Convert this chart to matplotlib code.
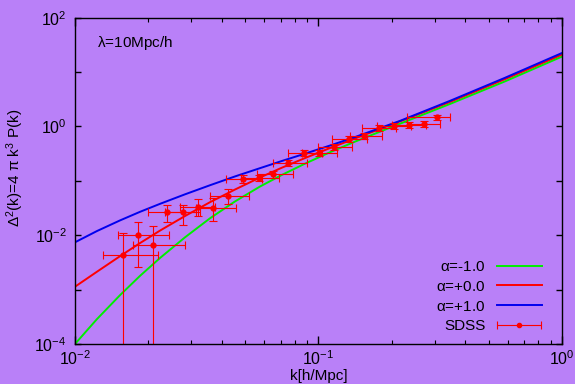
import numpy as np
import matplotlib
matplotlib.use("Agg")
import matplotlib.pyplot as plt
from matplotlib.ticker import FixedLocator, FuncFormatter, LogLocator, NullFormatter
from matplotlib.legend_handler import HandlerErrorbar

plt.rcParams['font.family'] = ['Liberation Sans', 'DejaVu Sans']
plt.rcParams['mathtext.default'] = 'regular'

bg = '#b980f8'

# model curves: k [h/Mpc] and log10 of Delta^2(k)
k_curve = [0.01, 0.012312, 0.015302, 0.018487, 0.02234, 0.028295, 0.035838, 0.04539, 0.057495,
           0.070812, 0.088032, 0.11149, 0.14122, 0.21621, 0.34677, 0.58327, 1.0]
logd_am1 = [-4.0, -3.542, -3.103, -2.748, -2.419, -2.039, -1.689, -1.379, -1.105,
            -0.890, -0.684, -0.474, -0.279, 0.051, 0.414, 0.829, 1.285]
logd_a0 = [-2.947, -2.671, -2.386, -2.145, -1.915, -1.647, -1.393, -1.160, -0.939,
           -0.757, -0.581, -0.397, -0.221, 0.094, 0.452, 0.871, 1.322]
logd_ap1 = [-2.130, -1.923, -1.728, -1.570, -1.423, -1.248, -1.081, -0.919, -0.767,
            -0.634, -0.500, -0.351, -0.195, 0.103, 0.471, 0.895, 1.351]

# SDSS band powers
sdss_k = [0.0158, 0.0182, 0.0210, 0.0239, 0.0279, 0.0319, 0.0370, 0.0427, 0.0491, 0.0568, 0.0653,
          0.0753, 0.0871, 0.1007, 0.116, 0.134, 0.154, 0.178, 0.204, 0.236, 0.271, 0.308]
sdss_d = [0.00432, 0.0101, 0.00652, 0.0270, 0.0264, 0.0326, 0.0321, 0.0532, 0.109, 0.112, 0.131,
          0.212, 0.321, 0.329, 0.413, 0.579, 0.667, 0.955, 1.02, 1.06, 1.12, 1.47]
sdss_k_lo = [0.0130, 0.01506, 0.01726, 0.0199, 0.02343, 0.0270, 0.0314, 0.0358, 0.0417, 0.0481, 0.0557,
             0.0649, 0.0749, 0.0855, 0.0998, 0.1136, 0.1347, 0.1513, 0.1738, 0.2003, 0.2302, 0.2316]
sdss_k_hi = [0.02198, 0.02439, 0.0283, 0.03131, 0.0326, 0.0376, 0.0458, 0.0520, 0.0586, 0.0688, 0.0788,
             0.0900, 0.1034, 0.1194, 0.1369, 0.1582, 0.1817, 0.2081, 0.2398, 0.2764, 0.3155, 0.3467]
sdss_d_lo = [1e-6, 0.00264, 1e-6, 0.0177, 0.0154, 0.0225, 0.0185, 0.0374, 0.092, 0.0985, 0.115,
             0.187, 0.283, 0.290, 0.364, 0.510, 0.587, 0.841, 0.90, 0.935, 0.99, 1.33]
sdss_d_hi = [0.0108, 0.0173, 0.01476, 0.0359, 0.0359, 0.0457, 0.0478, 0.0698, 0.130, 0.127, 0.149,
             0.241, 0.365, 0.374, 0.469, 0.658, 0.757, 1.085, 1.16, 1.20, 1.27, 1.62]

k = np.array(sdss_k)
d = np.array(sdss_d)
xerr = [k - np.array(sdss_k_lo), np.array(sdss_k_hi) - k]
yerr = [d - np.array(sdss_d_lo), np.array(sdss_d_hi) - d]

fig = plt.figure(figsize=(5.75, 3.84), dpi=100, facecolor=bg)
ax = fig.add_axes([0.1304, 0.1042, 0.8470, 0.8497], facecolor=bg)

ax.plot(k_curve, 10.0 ** np.array(logd_am1), color='#00ee00', lw=1.4, label=r'$\alpha$=-1.0')
ax.plot(k_curve, 10.0 ** np.array(logd_a0), color='#ff0000', lw=1.4, label=r'$\alpha$=+0.0')
ax.plot(k_curve, 10.0 ** np.array(logd_ap1), color='#0000ee', lw=1.4, label=r'$\alpha$=+1.0')
ax.errorbar(k, d, xerr=xerr, yerr=yerr, fmt='o', color='#ff0000', ms=3.5,
            elinewidth=0.8, capsize=2.6, capthick=0.8)
proxy = ax.errorbar([np.nan], [np.nan], xerr=[[0.0], [0.0]], fmt='o', color='#ff0000', ms=3.0,
                    elinewidth=0.8, capsize=2.6, capthick=0.8, label='SDSS')

ax.set_xscale('log')
ax.set_yscale('log')
ax.set_xlim(0.01, 1.0)
ax.set_ylim(1e-4, 1e2)

ax.yaxis.set_major_locator(FixedLocator([1e-4, 1e-3, 1e-2, 1e-1, 1e0, 1e1, 1e2]))
ax.yaxis.set_minor_locator(FixedLocator([]))
ax.yaxis.set_major_formatter(FuncFormatter(
    lambda v, p: '$10^{%d}$' % round(np.log10(v)) if round(np.log10(v)) % 2 == 0 else ''))
ax.xaxis.set_major_locator(FixedLocator([1e-2, 1e-1, 1e0]))
ax.xaxis.set_minor_locator(LogLocator(base=10, subs=np.arange(2, 10)))
ax.xaxis.set_minor_formatter(NullFormatter())
ax.xaxis.set_major_formatter(FuncFormatter(lambda v, p: '$10^{%d}$' % round(np.log10(v))))

ax.tick_params(which='both', direction='in', top=True, right=True, labelsize=11.5, colors='black')
ax.tick_params(axis='x', which='major', length=6, width=1, pad=4)
ax.tick_params(axis='x', which='minor', length=3, width=0.8)
ax.tick_params(axis='y', which='major', length=4, width=1, pad=6)
for s in ax.spines.values():
    s.set_linewidth(1.0)

ax.set_xlabel('k[h/Mpc]', fontsize=11)
ax.xaxis.set_label_coords(0.5, -0.076)
ax.set_ylabel(r'$\Delta^2$(k)=4 $\pi$ k$^3$ P(k)', fontsize=11)
ax.yaxis.set_label_coords(-0.101, 0.54)
ax.text(0.045, 0.922, r'$\lambda$=10Mpc/h', transform=ax.transAxes, fontsize=11, va='center')

leg = ax.legend(loc='lower right', bbox_to_anchor=(0.971, 0.014), borderaxespad=0,
                frameon=False, markerfirst=False, fontsize=11,
                handlelength=2.95, labelspacing=0.38, handletextpad=0.72,
                handler_map={proxy: HandlerErrorbar(xerr_size=1.45)})

fig.savefig('out.png', dpi=100, facecolor=bg)
